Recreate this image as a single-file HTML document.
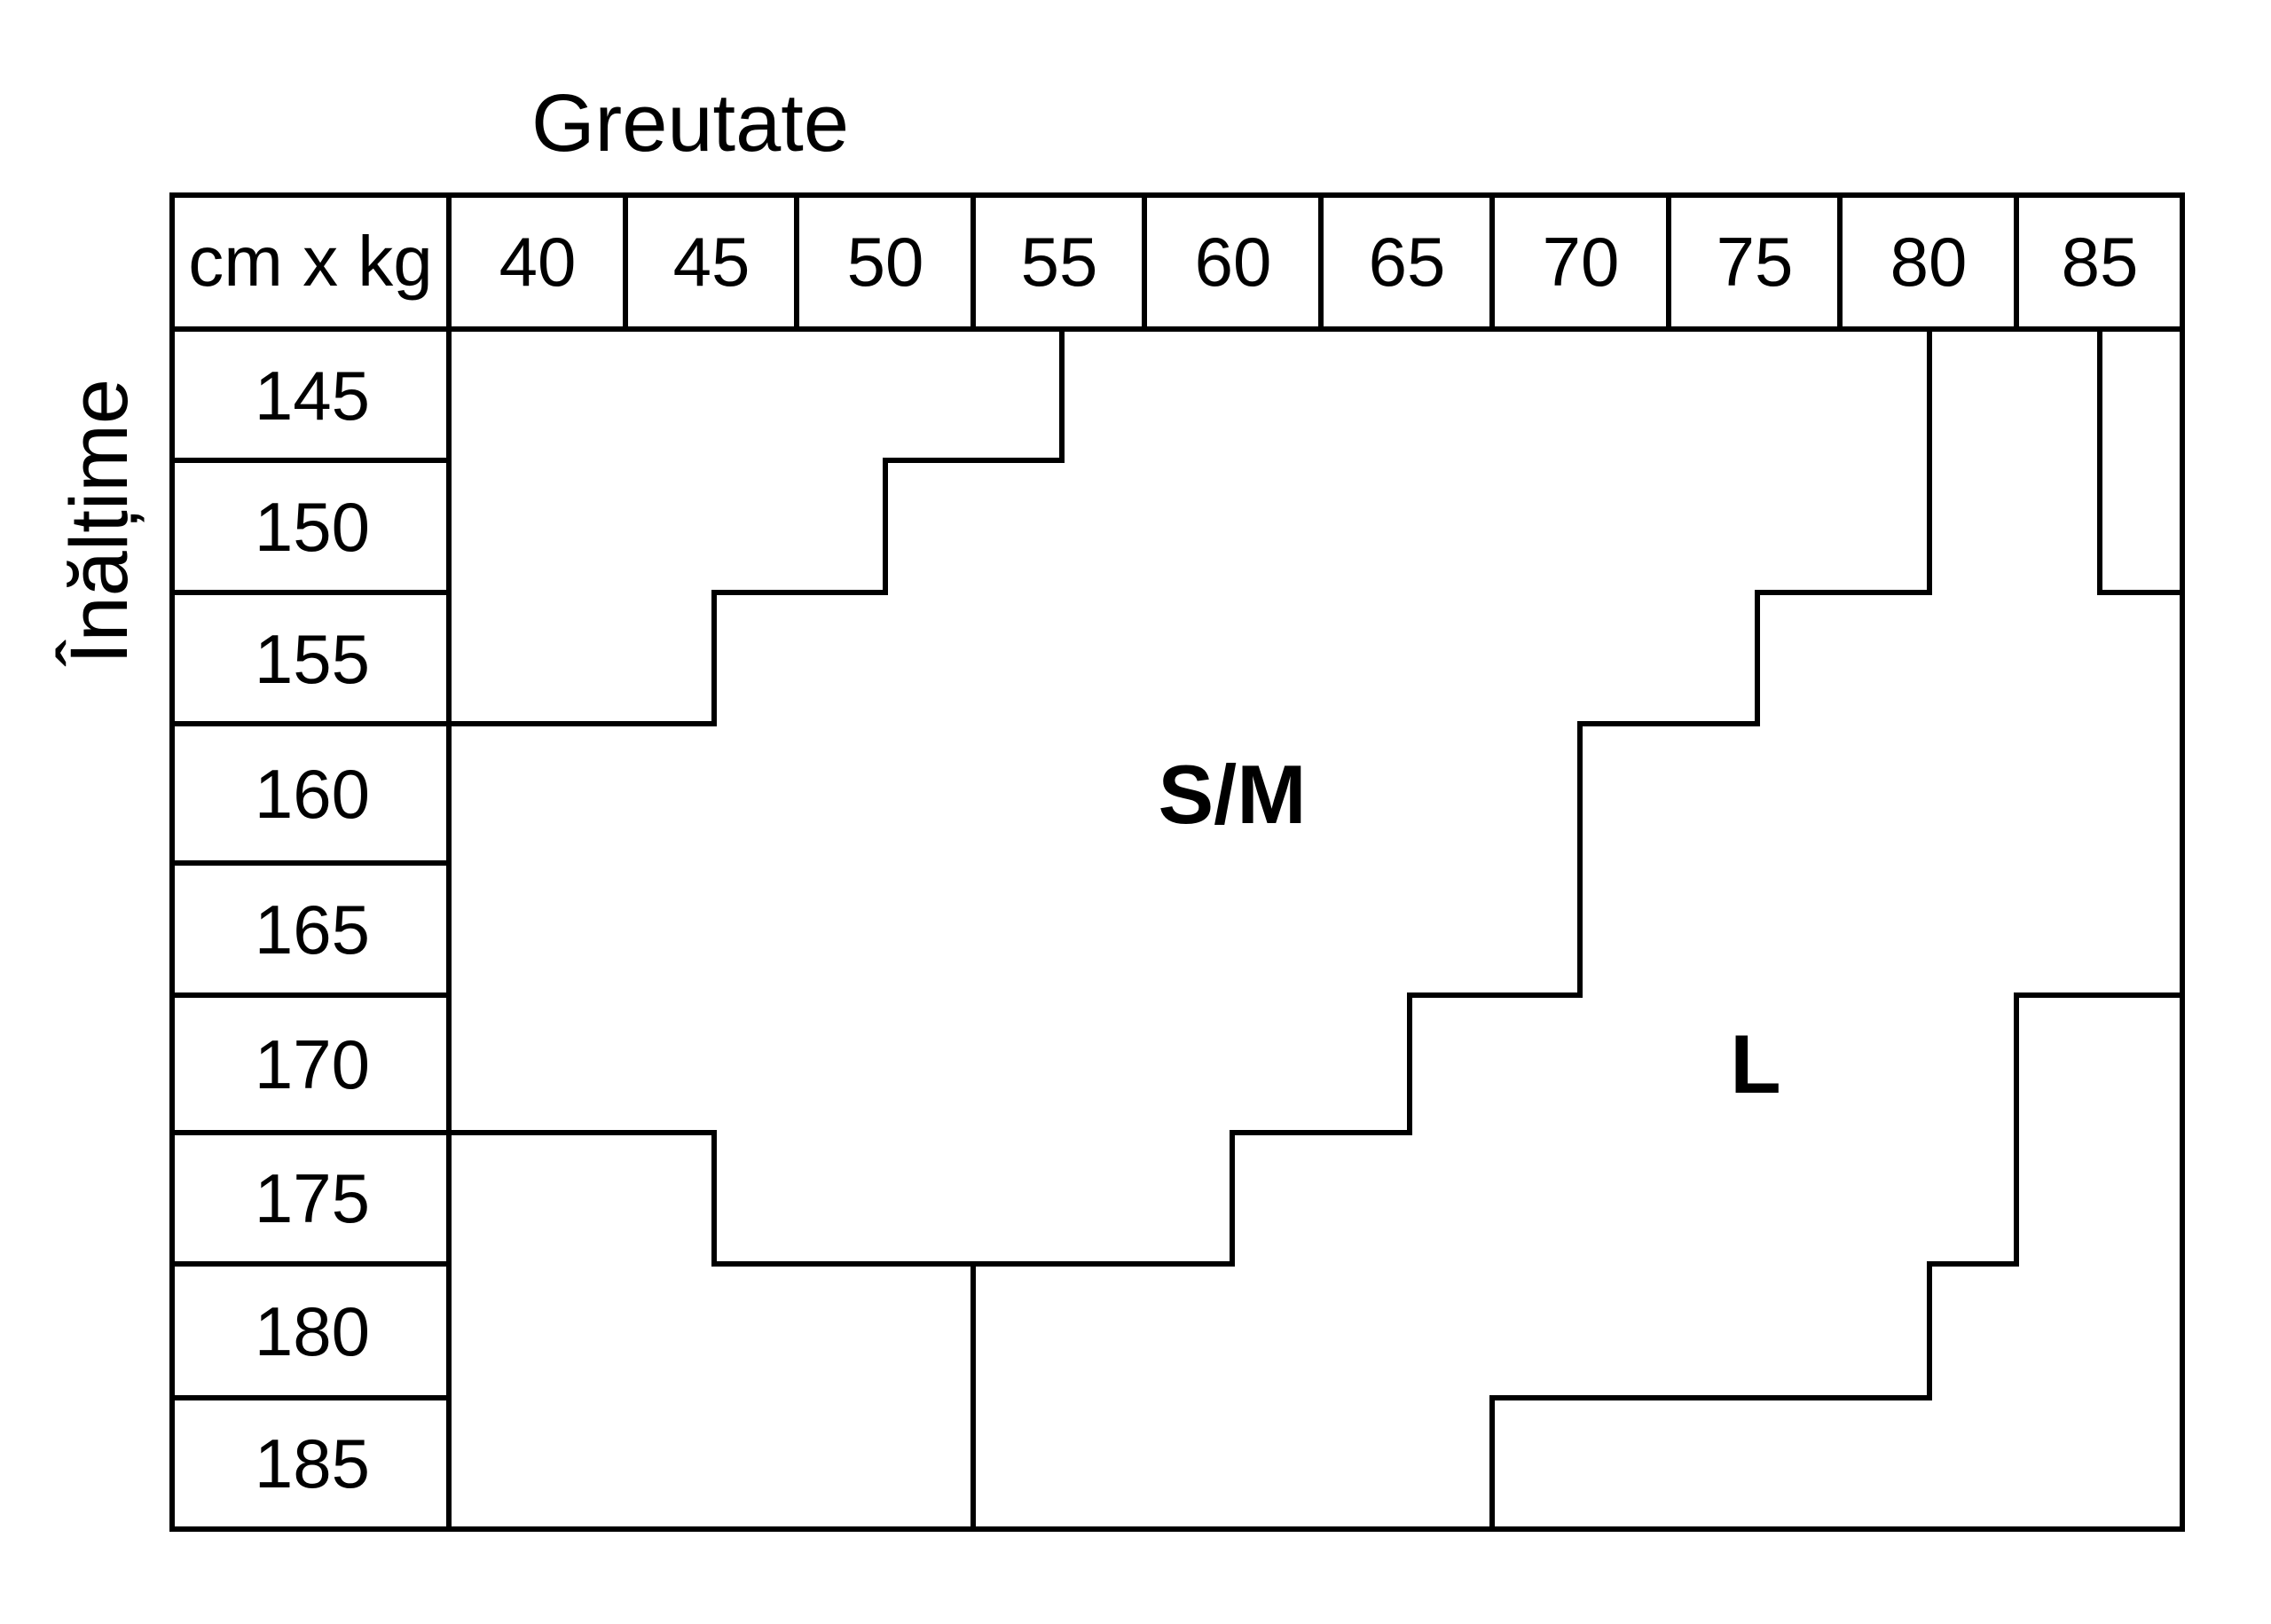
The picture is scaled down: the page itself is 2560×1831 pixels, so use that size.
<!DOCTYPE html>
<html><head><meta charset="utf-8"><style>html,body{margin:0;padding:0;background:#fff}</style></head><body>
<svg width="2560" height="1826" viewBox="0 0 2560 1826" xmlns="http://www.w3.org/2000/svg" font-family="Liberation Sans, sans-serif">
<rect width="2560" height="1826" fill="#fff"/>
<g stroke="#000" stroke-width="6" fill="none" stroke-linecap="square">
<rect x="194" y="220" width="2266" height="1504"/>
<line x1="194" y1="371" x2="2460" y2="371"/>
<line x1="506" y1="220" x2="506" y2="1724"/>
<line x1="705" y1="220" x2="705" y2="371"/>
<line x1="898" y1="220" x2="898" y2="371"/>
<line x1="1097" y1="220" x2="1097" y2="371"/>
<line x1="1290" y1="220" x2="1290" y2="371"/>
<line x1="1489" y1="220" x2="1489" y2="371"/>
<line x1="1682" y1="220" x2="1682" y2="371"/>
<line x1="1881" y1="220" x2="1881" y2="371"/>
<line x1="2074" y1="220" x2="2074" y2="371"/>
<line x1="2273" y1="220" x2="2273" y2="371"/>
<line x1="194" y1="519" x2="506" y2="519"/>
<line x1="194" y1="668" x2="506" y2="668"/>
<line x1="194" y1="816" x2="506" y2="816"/>
<line x1="194" y1="973" x2="506" y2="973"/>
<line x1="194" y1="1122" x2="506" y2="1122"/>
<line x1="194" y1="1277" x2="506" y2="1277"/>
<line x1="194" y1="1425" x2="506" y2="1425"/>
<line x1="194" y1="1576" x2="506" y2="1576"/>
<polyline points="506,816 805,816 805,668 998,668 998,519 1197,519 1197,371"/>
<polyline points="2175,371 2175,668 1981,668 1981,816 1781,816 1781,1122 1589,1122 1589,1277 1389,1277 1389,1425 805,1425 805,1277 506,1277"/>
<polyline points="2367,371 2367,668 2460,668"/>
<polyline points="2460,1122 2273,1122 2273,1425 2175,1425 2175,1576 1682,1576 1682,1724"/>
<line x1="1097" y1="1425" x2="1097" y2="1724"/>
</g>
<g fill="#000" text-anchor="middle" font-size="78">
<text x="778" y="170" font-size="92">Greutate</text>
<text x="350" y="322" font-size="80">cm x kg</text>
<text x="606" y="322">40</text>
<text x="802" y="322">45</text>
<text x="998" y="322">50</text>
<text x="1194" y="322">55</text>
<text x="1390" y="322">60</text>
<text x="1586" y="322">65</text>
<text x="1782" y="322">70</text>
<text x="1978" y="322">75</text>
<text x="2174" y="322">80</text>
<text x="2367" y="322">85</text>
<text x="352" y="473">145</text>
<text x="352" y="621">150</text>
<text x="352" y="770">155</text>
<text x="352" y="922">160</text>
<text x="352" y="1075">165</text>
<text x="352" y="1227">170</text>
<text x="352" y="1378">175</text>
<text x="352" y="1528">180</text>
<text x="352" y="1677">185</text>
<text x="1389" y="928" font-size="94" font-weight="bold">S/M</text>
<text x="1979" y="1232" font-size="94" font-weight="bold">L</text>
<text x="0" y="0" font-size="92" transform="translate(143,588) rotate(-90)">Înălțime</text>
</g>
</svg>
</body></html>
